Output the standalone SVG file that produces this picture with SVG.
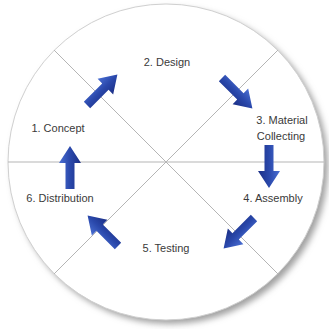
<svg xmlns="http://www.w3.org/2000/svg" width="329" height="329" viewBox="0 0 329 329">
  <style>
    .lbl { font-family: "Liberation Sans", Arial, sans-serif; font-size: 11px; fill: #3a3a3a; text-anchor: middle; }
    .div { stroke: #b5b5b5; stroke-width: 1; fill: none; }
  </style>
  <defs>
    <filter id="soft" x="-10%" y="-10%" width="130%" height="130%">
      <feGaussianBlur stdDeviation="3"/>
    </filter>
    <linearGradient id="arrowFill" x1="0" y1="-11" x2="0" y2="11" gradientUnits="userSpaceOnUse">
      <stop offset="0" stop-color="#4a6fd3"/>
      <stop offset="0.5" stop-color="#2a48ab"/>
      <stop offset="1" stop-color="#1b2f86"/>
    </linearGradient>
    <!-- block arrow pointing along +x, tail centred on the origin -->
    <path id="blockArrow" d="M0,-4.5 L26,-4.5 L26,-11 L43,0 L26,11 L26,4.5 L0,4.5 Z" fill="url(#arrowFill)"/>
  </defs>

  <rect width="329" height="329" fill="#ffffff"/>

  <!-- disc with drop shadow -->
  <circle cx="170" cy="166" r="158" fill="#a0a0a0" filter="url(#soft)"/>
  <circle cx="166" cy="162" r="158" fill="#ffffff" stroke="#d0d0d0" stroke-width="1"/>

  <!-- sector dividers -->
  <g id="dividers">
    <line class="div" x1="8" y1="162" x2="324" y2="162"/>
    <line class="div" x1="54" y1="50" x2="278" y2="274"/>
    <line class="div" x1="278" y1="50" x2="54" y2="274"/>
  </g>

  <g id="step1"><text class="lbl" x="58" y="132">1. Concept</text></g>
  <g id="step2"><text class="lbl" x="167" y="66">2. Design</text></g>
  <g id="step3"><text class="lbl" x="282" y="124">3. Material</text><text class="lbl" x="281" y="140">Collecting</text></g>
  <g id="step4"><text class="lbl" x="273" y="202">4. Assembly</text></g>
  <g id="step5"><text class="lbl" x="166" y="252">5. Testing</text></g>
  <g id="step6"><text class="lbl" x="60" y="202">6. Distribution</text></g>

  <!-- cycle arrows -->
  <g id="connectors">
    <use href="#blockArrow" transform="translate(87,105) rotate(-45)"/>
    <use href="#blockArrow" transform="translate(222,78) rotate(45)"/>
    <use href="#blockArrow" transform="translate(269,145) rotate(90)"/>
    <use href="#blockArrow" transform="translate(254,218) rotate(135)"/>
    <use href="#blockArrow" transform="translate(118,246) rotate(225)"/>
    <use href="#blockArrow" transform="translate(70,189) rotate(-90)"/>
  </g>
</svg>
